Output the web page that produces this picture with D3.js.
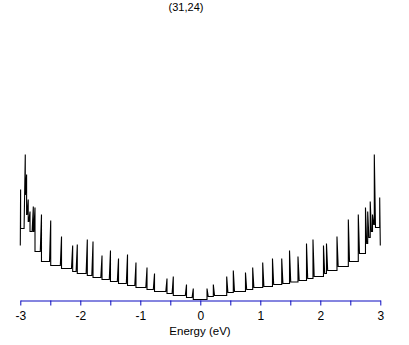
<!DOCTYPE html>
<html>
<head>
<meta charset="utf-8">
<script src="https://cdn.jsdelivr.net/npm/d3@7"></script>
<style>
  body { margin: 0; background: #fff; }
  svg { display: block; }
  text { font-family: "Liberation Sans", Arial, sans-serif; fill: #000; }
</style>
</head>
<body>
<svg id="chart" width="409" height="345"></svg>
<script>
// DOS of the (31,24) tube (arbitrary DOS units)
const title = "(31,24)";
const axisLabel = "Energy (eV)";

const tickValues = [-3, -2.5, -2, -1.5, -1, -0.5, 0, 0.5, 1, 1.5, 2, 2.5, 3];
const tickLabels = ["-3", "", "-2", "", "-1", "", "0", "", "1", "", "2", "", "3"];

// valence side: singularity energy, peak, floor on the outer (left) side
const leftSpikeE = [-2.995, -2.917, -2.895, -2.868, -2.838, -2.783, -2.755, -2.647, -2.493, -2.313,
    -2.127, -2.05, -1.883, -1.788, -1.638, -1.497, -1.363, -1.213, -1.072, -0.888,
    -0.763, -0.555, -0.45, -0.23, -0.117];
const leftSpikePeak = [7.33, 9.67, 8.33, 6.67, 5.87, 6.2, 6.13, 5.67, 5.27, 4.2,
    3.6, 3.67, 4.0, 3.87, 2.93, 3.27, 2.73, 3.0, 2.47, 2.13,
    1.73, 1.4, 1.53, 1.0, 0.73];
const leftFloor = [3.6, 4.73, 7.0, 5.67, 5.2, 4.53, 4.53, 3.2, 2.53, 2.27,
    2.07, 1.87, 1.73, 1.6, 1.47, 1.33, 1.2, 1.07, 0.93, 0.8,
    0.67, 0.53, 0.4, 0.27, 0.13];

// conduction side: singularity energy, peak, floor on the outer (right) side
const rightSpikeE = [0.112, 0.217, 0.44, 0.55, 0.753, 0.873, 1.04, 1.203, 1.357, 1.487,
    1.628, 1.77, 1.878, 2.053, 2.103, 2.278, 2.467, 2.633, 2.753, 2.79,
    2.832, 2.87, 2.9, 2.99];
const rightSpikePeak = [0.73, 1.0, 1.53, 1.93, 1.8, 2.13, 2.47, 2.73, 2.73, 3.27,
    2.87, 3.73, 4.0, 3.6, 3.73, 4.2, 5.33, 5.67, 6.13, 5.87,
    6.53, 5.67, 9.67, 6.8];
const rightFloor = [0.2, 0.27, 0.47, 0.53, 0.67, 0.8, 0.87, 1.0, 1.07, 1.17,
    1.27, 1.4, 1.53, 1.73, 1.93, 2.2, 2.53, 3.07, 3.73, 4.13,
    4.53, 5.0, 4.8, 3.6];

const tail = 0.02; // width of the drawn tail next to each peak, in eV

const svg = d3.select("#chart");

const x = d3.scaleLinear().domain([-3, 3]).range([20.3, 380.3]);
const y = d3.scaleLinear().domain([0, 10]).range([299.5, 149.5]);

// build the curve vertices from the spike tables
const pts = [[-3, leftFloor[0]]];
leftSpikeE.forEach((e, k) => {
    const prev = k === 0 ? -3 : leftSpikeE[k - 1];
    pts.push([Math.max(e - tail, prev), leftFloor[k]]);
    pts.push([e, leftSpikePeak[k]]);
    pts.push([e, k + 1 < leftSpikeE.length ? leftFloor[k + 1] : 0]);
});
rightSpikeE.forEach((e, k) => {
    const next = k + 1 < rightSpikeE.length ? rightSpikeE[k + 1] : 3;
    pts.push([e, k === 0 ? 0 : rightFloor[k - 1]]);
    pts.push([e, rightSpikePeak[k]]);
    pts.push([Math.min(e + tail, next), rightFloor[k]]);
});
pts.push([3, rightFloor[rightFloor.length - 1]]);

const line = d3.line()
    .x(d => x(d[0]))
    .y(d => y(d[1]));

svg.append("path")
    .datum(pts)
    .attr("fill", "none")
    .attr("stroke", "#000")
    .attr("stroke-width", 1.1)
    .attr("d", line);

// bottom axis
const axis = d3.axisBottom(x)
    .tickValues(tickValues)
    .tickFormat((d, i) => tickLabels[i])
    .tickSize(5)
    .tickSizeOuter(0);

const gx = svg.append("g")
    .attr("transform", "translate(0,300.5)")
    .call(axis);

gx.select(".domain").attr("stroke", "#0a0ac0");
gx.selectAll(".tick line").attr("stroke", "#0a0ac0");
gx.selectAll(".tick text")
    .attr("y", 19.5)
    .attr("dy", null)
    .style("font-size", "12px")
    .style("font-family", "'Liberation Sans', Arial, sans-serif")
    .attr("fill", "#000");

svg.append("text")
    .attr("x", 200)
    .attr("y", 335)
    .attr("text-anchor", "middle")
    .style("font-size", "11.5px")
    .text(axisLabel);

svg.append("text")
    .attr("x", 186)
    .attr("y", 11)
    .attr("text-anchor", "middle")
    .style("font-size", "11px")
    .text(title);
</script>
</body>
</html>
